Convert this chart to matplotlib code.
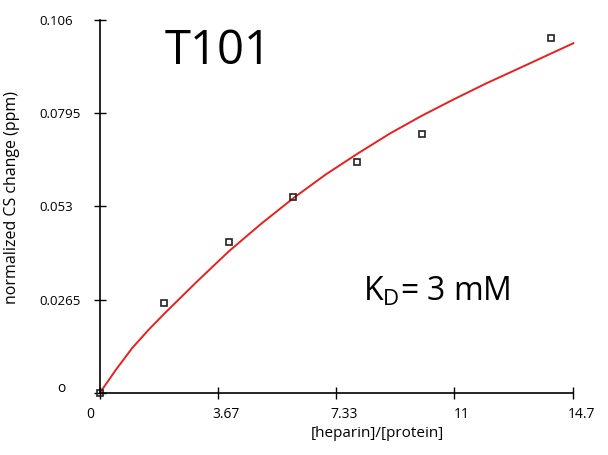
import matplotlib.pyplot as plt
import matplotlib.transforms as mtransforms

plt.rcParams['font.family'] = ['Open Sans', 'DejaVu Sans']

# measured titration points
ratio = [0.0, 2.0, 4.02, 6.0, 7.99, 9.99, 14.0]
cs_change = [0.0, 0.0256, 0.0429, 0.0557, 0.0655, 0.0736, 0.1008]

# fitted curve
fit_x = [0, 0.5, 1, 1.5, 2, 3, 4, 5, 6, 7, 8, 9, 10, 11, 12, 13, 14.7]
fit_y = [0.0, 0.0066, 0.0127, 0.0178, 0.0225, 0.0315, 0.0402, 0.0480, 0.0553,
         0.0620, 0.0680, 0.0737, 0.0788, 0.0835, 0.0880, 0.0922, 0.0994]

xticks = [0, 3.67, 7.33, 11, 14.7]
xtick_labels = ['0', '3.67', '7.33', '11', '14.7']
yticks = [0, 0.0265, 0.053, 0.0795, 0.106]
ytick_labels = ['', '0.0265', '0.053', '0.0795', '0.106']

fig = plt.figure(figsize=(6.08, 4.55), dpi=100)
ax = fig.add_axes([0.1645, 0.137, 0.943 - 0.1645, 0.956 - 0.137])

ax.plot(fit_x, fit_y, color='#e8201e', lw=1.4, clip_on=False)
ax.plot(ratio, cs_change, ls='none', marker='s', ms=5, mfc='none',
        mec='#222222', mew=1.2, clip_on=False)

ax.set_xlim(0, 14.7)
ax.set_ylim(0, 0.106)
for s in ['top', 'right']:
    ax.spines[s].set_visible(False)
for s in ['left', 'bottom']:
    ax.spines[s].set_linewidth(1.2)

ax.set_xticks(xticks)
ax.set_xticklabels(xtick_labels, fontsize=10)
ax.set_yticks(yticks)
ax.set_yticklabels(ytick_labels, fontsize=9.5, ha='left')
ax.tick_params(axis='both', direction='inout', length=9, width=1)
ax.tick_params(axis='y', pad=39)
ax.tick_params(axis='x', pad=6)

# x labels sit a bit right of their ticks
shift = mtransforms.ScaledTranslation(8 / 100, 0, fig.dpi_scale_trans)
for i, lab in enumerate(ax.get_xticklabels()):
    if i == 0:
        lab.set_transform(lab.get_transform() + mtransforms.ScaledTranslation(-10 / 100, 0, fig.dpi_scale_trans))
    else:
        lab.set_transform(lab.get_transform() + shift)

ax.text(-0.09, 0.012, 'o', transform=ax.transAxes, fontsize=10, ha='left', va='center')

ax.set_xlabel('[heparin]/[protein]', fontsize=11)
ax.xaxis.set_label_coords(0.587, -0.09)
ax.set_ylabel('normalized CS change (ppm)', fontsize=11.5)
ax.yaxis.set_label_coords(-0.168, 0.525)

ax.text(0.137, 0.915, 'T101', transform=ax.transAxes, fontsize=34, va='center')
ax.text(0.555, 0.27, r'K$_\mathregular{D}$= 3 mM', transform=ax.transAxes,
        fontsize=23, va='center')

fig.savefig('out.png', dpi=100)
